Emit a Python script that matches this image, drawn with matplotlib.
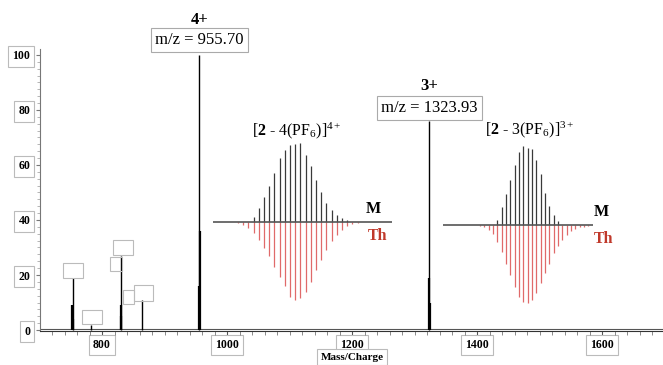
import numpy as np
import matplotlib
matplotlib.use("Agg")
import matplotlib.pyplot as plt
from matplotlib.patches import Rectangle

plt.rcParams['font.family'] = ['Liberation Serif', 'DejaVu Serif']
plt.rcParams['mathtext.fontset'] = 'custom'
plt.rcParams['mathtext.rm'] = 'Liberation Serif'
plt.rcParams['mathtext.bf'] = 'Liberation Serif:bold'
plt.rcParams['mathtext.it'] = 'Liberation Serif:italic'

# ---------------- data ----------------
peak_mz = [753.0, 782.5, 830.0, 864.5, 955.70, 1323.93]
peak_int = [19, 2, 27, 11, 100, 76]
shoulder_mz = [752.7, 753.3, 829.7, 830.3, 955.3, 956.1, 1323.6, 1324.3]
shoulder_int = [9, 4, 9, 5, 16, 36, 19, 10]

x_ticks = [800, 1000, 1200, 1400, 1600]
y_ticks = [0, 20, 40, 60, 80, 100]

# isotope patterns (relative intensity, measured up / theoretical down)
meas_4 = [6, 17, 31, 45, 62, 80, 91, 97, 98, 100, 84, 70, 53, 37, 23, 14, 8, 4, 2]
theo_4 = [1, 2, 4, 8, 15, 23, 34, 44, 57, 70, 82, 95, 99, 97, 89, 76, 61, 49, 36, 25, 17, 11, 6, 3, 2, 1]
meas_4_start = 4
meas_3 = [6, 23, 39, 57, 76, 92, 100, 98, 96, 82, 65, 41, 24, 13, 5]
theo_3 = [1, 3, 6, 11, 21, 34, 49, 63, 78, 91, 97, 99, 95, 86, 74, 61, 49, 36, 27, 19, 13, 8, 5, 3, 2, 1]
meas_3_start = 4

# ---------------- figure ----------------
W, H = 663, 365
fig = plt.figure(figsize=(W / 100, H / 100), dpi=100)

def fx(px):
    return px / W

def fy(py):
    return (H - py) / H

ax_left = fx(40)
ax_bottom = fy(331.4)
ax = fig.add_axes([ax_left, ax_bottom, 1 - ax_left, 282 / H])
ax.set_xlim(700.8, 1697.6)
ax.set_ylim(-0.5, 102)

# baseline noise line
ax.plot([700.8, 1697.6], [0.3, 0.3], color='#555555', lw=0.8, zorder=1)
ax.vlines(shoulder_mz, 0, shoulder_int, color='black', lw=1.6, zorder=2)
ax.vlines(peak_mz, 0, peak_int, color='black', lw=1.0, zorder=3)

for s in ['top', 'right']:
    ax.spines[s].set_visible(False)
ax.spines['left'].set_color('#777777')
ax.spines['bottom'].set_color('#333333')

ax.set_xticks(x_ticks)
ax.set_xticks(np.arange(720, 1700, 20), minor=True)
ax.set_yticks(y_ticks)
ax.set_yticks(np.arange(0, 101, 2.5), minor=True)
ax.tick_params(axis='x', which='major', length=4, width=0.8, color='#555555', pad=1.5,
               labelsize=8.5)
ax.tick_params(axis='x', which='minor', length=3, width=0.6, color='#777777')
ax.tick_params(axis='y', which='major', length=3, width=0.8, color='#777777', pad=4,
               labelsize=8.5)
ax.tick_params(axis='y', which='minor', length=2, width=0.5, color='#999999')
for lab in ax.get_xticklabels() + ax.get_yticklabels():
    lab.set_fontweight('bold')
    lab.set_bbox(dict(boxstyle='square,pad=0.35', fc='white', ec='#bbbbbb', lw=0.8))

# empty peak label boxes
boxes = [(737.6, 18.9, 32, 5.5), (768, 2.2, 32, 5.1), (817.6, 27.3, 32, 5.4),
         (812.8, 21.5, 19.2, 5.0), (851.2, 10.5, 30.4, 5.9), (833.6, 9.5, 17.6, 5.0)]
for (bx, by, bw, bh) in boxes:
    ax.add_patch(Rectangle((bx, by), bw, bh, fill=False, ec='#bbbbbb', lw=0.8,
                           zorder=4, clip_on=False))

# peak annotations
box_kw = dict(boxstyle='square,pad=0.25', fc='white', ec='#aaaaaa', lw=0.8)
ax.text(955.7, 112.7, '4+', ha='center', va='center', fontsize=12, fontweight='bold')
ax.text(955.7, 105.5, 'm/z = 955.70', ha='center', va='center', fontsize=12, bbox=box_kw)
ax.text(1323.93, 88.7, '3+', ha='center', va='center', fontsize=12, fontweight='bold')
ax.text(1323.93, 80.7, 'm/z = 1323.93', ha='center', va='center', fontsize=12, bbox=box_kw)

fig.text(fx(352), fy(357), 'Mass/Charge', ha='center', va='center', fontsize=8,
         fontweight='bold',
         bbox=dict(boxstyle='square,pad=0.3', fc='white', ec='#bbbbbb', lw=0.8))

# ---------------- insets ----------------
def inset(left_px, right_px, base_px, xlo, xhi, meas, meas_start, theo):
    a = fig.add_axes([fx(left_px), fy(base_px + 79), fx(right_px - left_px), 158 / H])
    a.set_xlim(xlo, xhi)
    a.set_ylim(-100, 100)
    a.axis('off')
    tx = np.arange(len(theo))
    mx = np.arange(meas_start, meas_start + len(meas))
    a.vlines(tx, 0, -np.array(theo), color='#e06a6a', lw=0.9)
    a.vlines(mx, 0, meas, color='#3a3a3a', lw=0.9)
    a.axhline(0, color='#555555', lw=1.2)
    return a

inset(213, 392, 221.5, -3.8, 30.6, meas_4, meas_4_start, theo_4)
inset(443, 593, 225, -8.5, 26.1, meas_3, meas_3_start, theo_3)

fig.text(fx(297), fy(131), r'[$\mathbf{2}$ - 4(PF$_6$)]$^{4+}$', ha='center', va='center',
         fontsize=11.5)
fig.text(fx(530), fy(130), r'[$\mathbf{2}$ - 3(PF$_6$)]$^{3+}$', ha='center', va='center',
         fontsize=11.5)
fig.text(fx(373), fy(209), 'M', ha='center', va='center', fontsize=11.5, fontweight='bold')
fig.text(fx(378), fy(236), 'Th', ha='center', va='center', fontsize=11.5, fontweight='bold',
         color='#c0392b')
fig.text(fx(601), fy(212), 'M', ha='center', va='center', fontsize=11.5, fontweight='bold')
fig.text(fx(604), fy(239), 'Th', ha='center', va='center', fontsize=11.5, fontweight='bold',
         color='#c0392b')

fig.savefig('out.png', dpi=100)
